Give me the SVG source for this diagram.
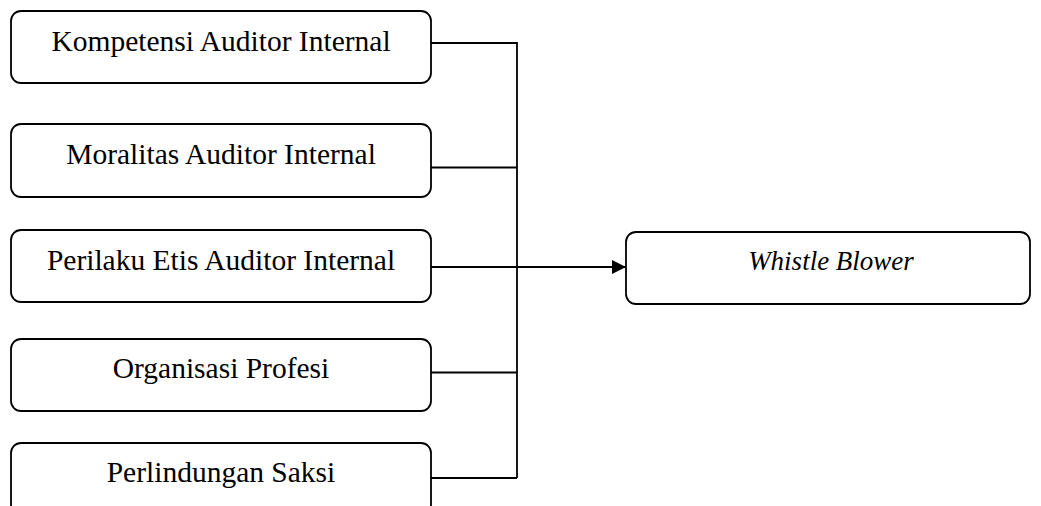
<svg xmlns="http://www.w3.org/2000/svg" width="1041" height="506" viewBox="0 0 1041 506">
<style>
.box{fill:#fff;stroke:#000;stroke-width:1.8}
.lbl{font-family:"Liberation Serif","Times New Roman",serif;font-size:29.5px;fill:#000;text-anchor:middle}
.it{font-style:italic;font-size:27px}
.con{fill:none;stroke:#000;stroke-width:1.8}
</style>
<defs>
<marker id="arr" markerWidth="14" markerHeight="14" refX="14" refY="7" orient="auto" markerUnits="userSpaceOnUse">
<path d="M0,0 L14,7 L0,14 Z" fill="#000"/>
</marker>
</defs>
<rect width="1041" height="506" fill="#fff"/>
<g id="connectors">
<path class="con" d="M431,43 H517 V478 M431,167.5 H517 M431,372.5 H517 M431,478 H517"/>
<path class="con" d="M431,267 H626" marker-end="url(#arr)"/>
</g>
<g id="n1"><rect class="box" x="11" y="11" width="420" height="72" rx="10"/><text class="lbl" x="221" y="51">Kompetensi Auditor Internal</text></g>
<g id="n2"><rect class="box" x="11" y="124" width="420" height="73" rx="10"/><text class="lbl" x="221" y="164">Moralitas Auditor Internal</text></g>
<g id="n3"><rect class="box" x="11" y="230" width="420" height="72" rx="10"/><text class="lbl" x="221" y="269.5">Perilaku Etis Auditor Internal</text></g>
<g id="n4"><rect class="box" x="11" y="339" width="420" height="72" rx="10"/><text class="lbl" x="221" y="378">Organisasi Profesi</text></g>
<g id="n5"><rect class="box" x="11" y="443" width="420" height="72" rx="10"/><text class="lbl" x="221" y="481.5">Perlindungan Saksi</text></g>
<g id="n6"><rect class="box" x="626" y="232" width="404" height="72" rx="10"/><text class="lbl it" x="831" y="269.5">Whistle Blower</text></g>
</svg>
